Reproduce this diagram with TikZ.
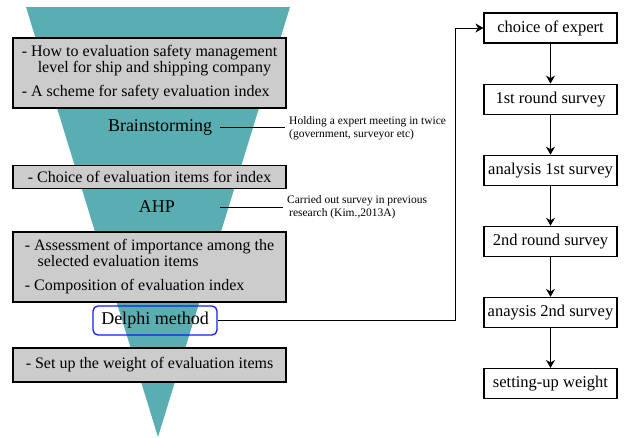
\documentclass[tikz,border=0pt]{standalone}
\usepackage{fontspec}
\setmainfont{Liberation Serif}
\usetikzlibrary{arrows.meta,positioning}
\definecolor{funnelteal}{RGB}{90,173,177}
\definecolor{boxgray}{RGB}{204,204,204}
\definecolor{delphiblue}{RGB}{20,30,240}

\begin{document}
\begin{tikzpicture}[x=1pt, y=-1pt, >={Stealth[length=8pt,width=9pt]},
    itembox/.style={draw, fill=boxgray, line width=1.3pt, minimum width=273pt, align=left, font=\fontsize{16}{16}\selectfont},
    method/.style={font=\fontsize{18}{18}\selectfont},
    note/.style={align=left, font=\fontsize{11.5}{13}\selectfont, inner xsep=4pt},
    stepbox/.style={draw, line width=1.1pt, minimum width=133pt, minimum height=30pt, inner sep=2pt, font=\fontsize{16.5}{16.5}\selectfont}]
    \useasboundingbox (0,0) rectangle (624,437);

    % Draw funnel
    \fill[funnelteal] (26,7) -- (290,7) -- (158,437) -- cycle;

    % Item boxes
    \node[itembox, minimum height=70pt] (scheme) at (149.5,73)
        {- How to evaluation safety management\\\hspace*{1em}level for ship and shipping company\\[8pt]- A scheme for safety evaluation index};
    \node[itembox, minimum height=23pt, inner ysep=1pt] (choice) at (149.5,177)
        {- Choice of evaluation items for index};
    \node[itembox, minimum height=70pt] (assess) at (149.5,267)
        {- Assessment of importance among the\\\hspace*{0.8em}selected evaluation items\\[8pt]- Composition of evaluation index};
    \node[itembox, minimum height=34pt] (weight) at (149.5,365)
        {- Set up the weight of evaluation items};

    % Methods
    \node[method, inner xsep=8pt] (brain) at (160,127) {Brainstorming};
    \node[method] (ahp) at (157,207) {AHP};
    \node[method, draw=delphiblue, line width=1.3pt, rounded corners=5pt, minimum width=124pt, minimum height=29pt, inner sep=2pt] (delphi) at (155,320.5) {Delphi method};

    % Notes
    \node[note, anchor=west] (meeting) at (285,128) {Holding a expert meeting in twice\\(government, surveyor etc)};
    \node[note, anchor=west] (previous) at (283,207) {Carried out survey in previous\\\hspace*{2pt}research (Kim.,2013A)};
    \draw[line width=1pt] (brain.east) -- (brain.east -| meeting.west);
    \draw[line width=1pt] (ahp.east -| brain.east) -- (ahp.east -| previous.west);

    % Delphi steps
    \node[stepbox] (expert) at (550.5,28) {choice of expert};
    \node[stepbox, below=40pt of expert] (round1) {1st round survey};
    \node[stepbox, below=40pt of round1] (anal1) {analysis 1st survey};
    \node[stepbox, below=40pt of anal1] (round2) {2nd round survey};
    \node[stepbox, below=40pt of round2] (anal2) {anaysis 2nd survey};
    \node[stepbox, below=40pt of anal2] (setup) {setting-up weight};

    \draw[->, line width=1pt] (expert) -- (round1);
    \draw[->, line width=1pt] (round1) -- (anal1);
    \draw[->, line width=1pt] (anal1) -- (round2);
    \draw[->, line width=1pt] (round2) -- (anal2);
    \draw[->, line width=1pt] (anal2) -- (setup);

    % Delphi to steps
    \coordinate (bend) at (455,320.5);
    \draw[->, line width=0.9pt] (delphi.east) -- (bend) |- (expert.west);
\end{tikzpicture}
\end{document}
